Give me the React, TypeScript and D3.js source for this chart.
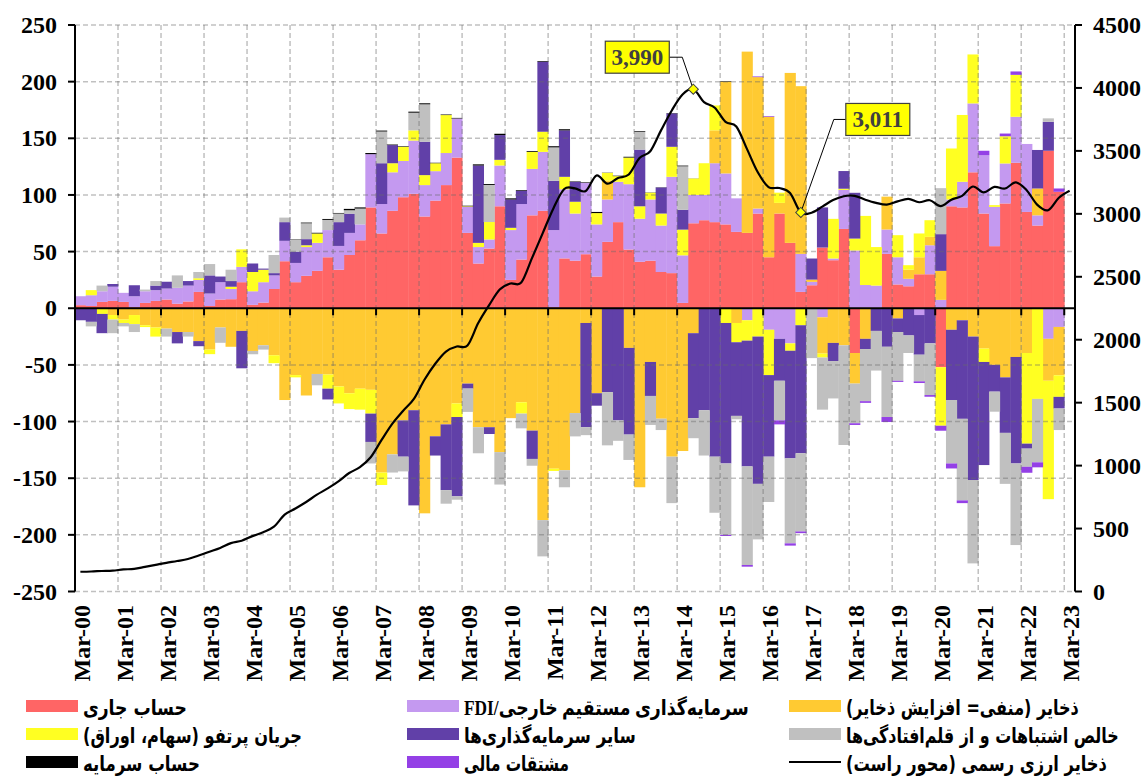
import React, { useLayoutEffect, useRef, useState } from 'react';
import * as d3 from 'd3';

// ---------------- DATA (bn USD, quarterly, Mar-00 .. Dec-22 for bars) ----------------
const tickLabels = [
  'Mar-00','Mar-01','Mar-02','Mar-03','Mar-04','Mar-05','Mar-06','Mar-07','Mar-08','Mar-09','Mar-10','Mar-11',
  'Mar-12','Mar-13','Mar-14','Mar-15','Mar-16','Mar-17','Mar-18','Mar-19','Mar-20','Mar-21','Mar-22','Mar-23'
];

const currentAccount = [
  2.7,2,5.6,6.5,5.6,1,4.7,6.5,7.7,4,6,14.4,2,7.7,8,23,3,5,17,41.5,23,28.6,33,45,34,47,60,89,
  66,86,98,101,81,95,108.7,133,66.5,39.5,52.7,90,25,43,82,86,1,44,42,47.7,28,58.6,76,51.8,41,42,32,31,
  4.7,75,77.7,76,74,67.4,66.5,83.6,45,83.6,57.7,14.4,20.3,53.6,42.4,70,-39.5,0.5,0.5,48,21,19.4,30,30,
  -52,90,89,120,83.6,54.8,92.5,128.4,85,73,139,102.8
];
const fdi = [
  7.9,9.5,9.4,12.5,8,9.6,10.3,9.5,9.7,14,14,10.6,11,15.3,9,13.5,12,18,12,18,17,25.4,24.7,24,21,19.5,14,47,
  26,34,32,47,27.7,26,28.3,34.5,23,14.5,8,36,44,49,41,52,68,61,41.6,63,46,37.4,35.6,57.7,38,54,41,85,
  42,25,22.3,52,45,29.6,-10.6,4.4,-19,-27,-31,33.6,3,-8,1.5,34.5,51,20,19.5,21.5,24,6.6,-6,25.6,
  7.4,6,22.6,60.8,51.4,34.7,35.3,40.6,60,9,-27,-16.5
];
const reservesFlow = [
  0,0,0,-6,-10,-6,-15,-17,-18,-21,-21,-29,-36.5,-17,-34,-20,-37.7,-32.7,-41.5,-81,-59,-77,-58,-58.5,-69,-75,-71,-72,
  -145,-129,-99,-90,-181,-113,-102.5,-84,-66.5,-105,-105,-127,-97,-83,-108,-187,-141.6,-143,-92.5,-13,-75,16.7,0,-35,-158,-47.4,-97.5,-131,
  -126,-22,0,29,81,-13,160,116,124,9.4,150,148,2,-32,-30.6,-32.7,-27,-27,0,29,-9,8,15,7.4,
  25.6,-19,-10.6,-25,-35.6,-50,-61,-43,-39.5,23.7,-37,-42.7
];
const portfolio = [
  0,4.5,-5,-4,-3,-8,-1.6,-8,0,0,0,1.5,-4,0,2,15.5,17,11,-7,0,-2,1.6,8.3,-12.5,-15,-14,-18.5,-21,
  -11,8,12.5,9,8.8,7,33.5,-12,0.5,3.7,15.4,5,2,-10,15,17.8,-2,11,10.4,0,10,6.8,5,23.5,11,6,10.6,26.5,
  22.7,14.5,28,22,-13,-17,-18,-25,-40,9,-6.5,-15,0,-3.5,35,1,10.5,61,34,0,19.5,4,21,14.7,
  -51.7,45,59,43.2,-11.8,1.5,24,37,-80,-80,-104.5,-19
];
const otherInvestment = [
  -10.6,-12,-17,2.4,0,9.7,0,4,6,-10,4,-4.5,16,5,5,-33,7.5,1,2,16.5,10,5.4,0,-9.5,21,17,0,-25,
  36,16,-32,-84,29.5,-17,-58,-70,-4.4,68.3,-6,21.8,25,11.7,-25,61.8,43.5,41,17.6,-92,-11,-74,-99,-76.5,50,-30,23,29.5,
  17.5,-75,-90,-131,-124,-65,-111,-130,-72,-37,-95,-113,18.6,35.4,-16,15.6,40.4,-9,-20,-34,-12,-24,-35,-31,
  32.4,-62,-87,-126.6,-91,-23.6,-49,-94,-4.4,34,25.6,-10.3
];
const errorsOmissions = [
  0,-4,5,-12,-3,-7,1.5,4,-7,11,-4,5.5,10,-13.5,10,0,-2.9,-3.8,16,4,10.7,14,-10,9,7.6,3,14,-19,
  28,-16,-13,15.6,33,0,-12,-3,-20.6,-23,32.7,-28.6,0,-13,-6,-32,29.5,-15,-20.6,-7,0,-47,-18,-22.4,15.8,-25.6,-10,-41,
  38.4,-17.7,-40,-49.5,-63,-3,-87,-49,-40,-35,-75,-69,-44,-46,-33,-88,-35,-46,-35,-62,-43,-15.5,-23.5,-45.6,
  40.6,-56,-72,-73.6,0,-17.7,-45,-72,-16,-56,3,-19
];
const capitalAccount = [
  0,0,0,0,0,0,0,0,0,0,0,0,0,0,0,0,0,0,0,0,0.3,0.6,0.6,0.8,0.5,1.2,1,1,
  0.8,0.5,0.5,0.9,0.9,0.4,0.5,0.5,0.5,1,0.8,1.2,1,0.6,0.7,0.6,1,1,0.4,0.5,1,0.2,0.4,0.7,0.6,0.2,0.2,0.3,
  0.6,0.1,0,0,0.5,0,0,0,0,0,0,0,0,0,0,0,0,0,0,0,0,0,0,0,
  0,0,0,0,0,0,0,0,0,0,0,0
];
const derivatives = [
  0,0,0,0,0,0,0,0,0,0,0,0,0,0,0,0,0,0,0,0,0,0,0,0,0,0,0,0,
  0,0,0,0,0,0,0,0,0,0,0,0,0,0,0,0,0,0,0,0,0,0,0,0,0,0,0,0,
  0,0,0,0,-1,0,-1.5,0.6,0.6,-3.5,-2,-1.5,0,0,0,0,-1.5,-1.5,0,-4.4,-1,0,-1.5,-1.5,
  -4.4,-4.4,-2.4,0,4,0,2.4,3,-5.3,-4.4,0,2.9
];
// Official FX reserves, right axis (Mar-00 .. Mar-23)
const fxReserves = [
  157,159,163,166, 175,180,196,212, 228,242,258,286, 316,346,384,403, 440,471,515,610,
  659,711,769,819, 875,941,988,1066, 1202,1332,1434,1528, 1682,1809,1906,1946, 1954,2132,2273,2399,
  2447,2454,2648,2847, 3045,3197,3202,3181, 3305,3240,3285,3312, 3443,3497,3663,3821, 3948,3990,3888,3843,
  3730,3694,3514,3330, 3213,3205,3166,3011, 3009,3057,3109,3140, 3143,3112,3087,3073, 3099,3119,3092,3108,
  3061,3112,3143,3217, 3170,3214,3201,3250, 3188,3071,3029,3128, 3184
];
const annotated = [57, 67];
const annotationText = ['3,990', '3,011'];

const seriesKeys = ['ca', 'fdi', 'res', 'port', 'oth', 'eo', 'cap', 'der'];
const seriesData: Record<string, number[]> = {
  ca: currentAccount, fdi, res: reservesFlow, port: portfolio, oth: otherInvestment,
  eo: errorsOmissions, cap: capitalAccount, der: derivatives,
};
const seriesColors: Record<string, string> = {
  ca: '#FF6565', fdi: '#C499F0', res: '#FFCA32', port: '#FFFF22', oth: '#6140A8',
  eo: '#C0C0C0', cap: '#000000', der: '#9440E6',
};
const legendItems = [
  { key: 'ca', label: 'حساب جاری', w: 104 },
  { key: 'fdi', label: 'سرمایه‌گذاری مستقیم خارجی/FDI', w: 285 },
  { key: 'res', label: 'ذخایر (منفی= افزایش ذخایر)', w: 233 },
  { key: 'port', label: 'جریان پرتفو (سهام، اوراق)', w: 219 },
  { key: 'oth', label: 'سایر سرمایه‌گذاری‌ها', w: 172 },
  { key: 'eo', label: 'خالص اشتباهات و از قلم‌افتادگی‌ها', w: 273 },
  { key: 'cap', label: 'حساب سرمایه', w: 117 },
  { key: 'der', label: 'مشتقات مالی', w: 105 },
  { key: 'line', label: 'ذخایر ارزی رسمی (محور راست)', w: 261 },
];
const leftTicks = [-250, -200, -150, -100, -50, 0, 50, 100, 150, 200, 250];
const rightTicks = [0, 500, 1000, 1500, 2000, 2500, 3000, 3500, 4000, 4500];

// ---------------- LAYOUT ----------------
const W = 1145, H = 778;
const L = 75, R = 1075, T = 25, B = 591.5;
const serif = '"Times New Roman", "Liberation Serif", serif';

export default function App() {
  const legendRefs = useRef<(SVGTextElement | null)[]>([]);
  const [scales, setScales] = useState<number[] | null>(null);

  useLayoutEffect(() => {
    const s = legendItems.map((it, k) => {
      const el = legendRefs.current[k];
      if (!el) return 1;
      const len = el.getComputedTextLength();
      return len > 0 ? it.w / len : 1;
    });
    setScales(s);
  }, []);

  const x = d3.scaleBand<number>().domain(d3.range(fxReserves.length)).range([L, R]).padding(0);
  const bw = x.bandwidth();
  const yL = d3.scaleLinear().domain([-250, 250]).range([B, T]);
  const yR = d3.scaleLinear().domain([0, 4500]).range([B, T]);

  const rows = currentAccount.map((_, i) => {
    const o: Record<string, number> = { i };
    seriesKeys.forEach(k => { o[k] = seriesData[k][i]; });
    return o;
  });
  const stacked = d3.stack<Record<string, number>>().keys(seriesKeys).offset(d3.stackOffsetDiverging)(rows);

  const line = d3.line<number>()
    .x((_, i) => (x(i) as number) + bw / 2)
    .y(v => yR(v))
    .curve(d3.curveCardinal.tension(0));

  const tickIdx = tickLabels.map((_, k) => k * 4);
  const grid = 'rgba(105,105,105,0.42)';
  const diamond = d3.symbol().type(d3.symbolSquare).size(52)();

  const boxOffsets = [[-56, -32], [77, -93]];

  return (
    <svg width={W} height={H} style={{ position: 'absolute', left: 0, top: 0, background: '#fff' }}>
      {/* bars */}
      {stacked.map(s => (
        <g key={s.key} fill={seriesColors[s.key]}>
          {s.map((d, i) => {
            if (d[0] === d[1]) return null;
            const y0 = yL(Math.max(d[0], d[1]));
            const y1 = yL(Math.min(d[0], d[1]));
            return <rect key={i} x={(x(i) as number)} y={y0} width={bw + 0.4} height={y1 - y0} />;
          })}
        </g>
      ))}

      {/* grid */}
      {leftTicks.filter(t => t !== 0).map(t => (
        <line key={'h' + t} x1={L} x2={R} y1={yL(t)} y2={yL(t)} stroke={grid} strokeWidth={1.5} strokeDasharray="5,3" />
      ))}
      {tickIdx.filter(i => i > 0).map(i => (
        <line key={'v' + i} x1={x(i)} x2={x(i)} y1={T} y2={B} stroke={grid} strokeWidth={1.5} strokeDasharray="5,3" />
      ))}

      {/* zero axis with ticks */}
      <line x1={L} x2={R} y1={yL(0)} y2={yL(0)} stroke="#000" strokeWidth={2} />
      {tickIdx.map(i => (
        <line key={'xt' + i} x1={x(i)} x2={x(i)} y1={yL(0)} y2={yL(0) + 7} stroke="#000" strokeWidth={2} />
      ))}

      {/* left axis */}
      <line x1={L} x2={L} y1={T} y2={B} stroke="#000" strokeWidth={2} />
      {leftTicks.map(t => (
        <g key={'lt' + t}>
          <line x1={L - 7} x2={L} y1={yL(t)} y2={yL(t)} stroke="#000" strokeWidth={2} />
          <text x={57} y={yL(t) + 8} textAnchor="end" fontFamily={serif} fontWeight="bold" fontSize={24}>{t}</text>
        </g>
      ))}

      {/* right axis */}
      <line x1={R} x2={R} y1={T} y2={B} stroke="#000" strokeWidth={2} />
      {rightTicks.map(t => (
        <g key={'rt' + t}>
          <line x1={R} x2={R + 7} y1={yR(t)} y2={yR(t)} stroke="#000" strokeWidth={2} />
          <text x={1093} y={yR(t) + 8} textAnchor="start" fontFamily={serif} fontWeight="bold" fontSize={24}>{t}</text>
        </g>
      ))}

      {/* x labels */}
      {tickLabels.map((lab, k) => {
        const xx = (x(tickIdx[k]) as number) + 14.5;
        return (
          <text key={lab} transform={`translate(${xx},605) rotate(-90)`} textAnchor="end"
            fontFamily={serif} fontWeight="bold" fontSize={24}>{lab}</text>
        );
      })}

      {/* reserves line */}
      <path d={line(fxReserves) || ''} fill="none" stroke="#000" strokeWidth={2.2} />

      {/* annotations */}
      {annotated.map((idx, k) => {
        const px = (x(idx) as number) + bw / 2;
        const py = yR(fxReserves[idx]);
        const cx = px + boxOffsets[k][0];
        const cy = py + boxOffsets[k][1];
        const bwid = 64, bh = 32;
        const edgeX = boxOffsets[k][0] < 0 ? cx + bwid / 2 : cx - bwid / 2;
        const elbowX = boxOffsets[k][0] < 0 ? edgeX + 13 : edgeX - 12;
        return (
          <g key={'ann' + idx}>
            <polyline points={`${edgeX},${cy} ${elbowX},${cy} ${px},${py}`} fill="none" stroke="#000" strokeWidth={1} />
            <rect x={cx - bwid / 2} y={cy - bh / 2} width={bwid} height={bh} fill="#FFFF00" stroke="#404040" strokeWidth={1.2} />
            <text x={cx} y={cy + 8} textAnchor="middle" fontFamily={serif} fontWeight="bold" fontSize={23} fill="#404040">
              {annotationText[k]}
            </text>
            <path d={diamond} transform={`translate(${px},${py}) rotate(45)`} fill="#FFFF00" stroke="#404040" strokeWidth={1} />
          </g>
        );
      })}

      {/* legend */}
      {legendItems.map((it, k) => {
        const col = k % 3, row = Math.floor(k / 3);
        const sx = [26, 407, 789][col];
        const sy = [700, 728, 756][row];
        const fam = it.key === 'fdi' ? '"Liberation Serif", "DejaVu Sans", serif' : '"DejaVu Sans", sans-serif';
        const sc = scales ? scales[k] : 1;
        return (
          <g key={'lg' + it.key}>
            {it.key === 'line'
              ? <line x1={sx} x2={sx + 52} y1={sy + 6} y2={sy + 6} stroke="#000" strokeWidth={2} />
              : <rect x={sx} y={sy} width={52} height={12} fill={seriesColors[it.key]} />}
            <g transform={`translate(${sx + 57},${sy + 15}) scale(${sc},1)`}>
              <text ref={el => { legendRefs.current[k] = el; }} x={0} y={0} textAnchor="end" direction="rtl"
                style={{ direction: 'rtl', unicodeBidi: 'embed' }}
                fontFamily={fam} fontWeight="bold" fontSize={21}
                visibility={scales ? 'visible' : 'hidden'}>{it.label}</text>
            </g>
          </g>
        );
      })}
    </svg>
  );
}
